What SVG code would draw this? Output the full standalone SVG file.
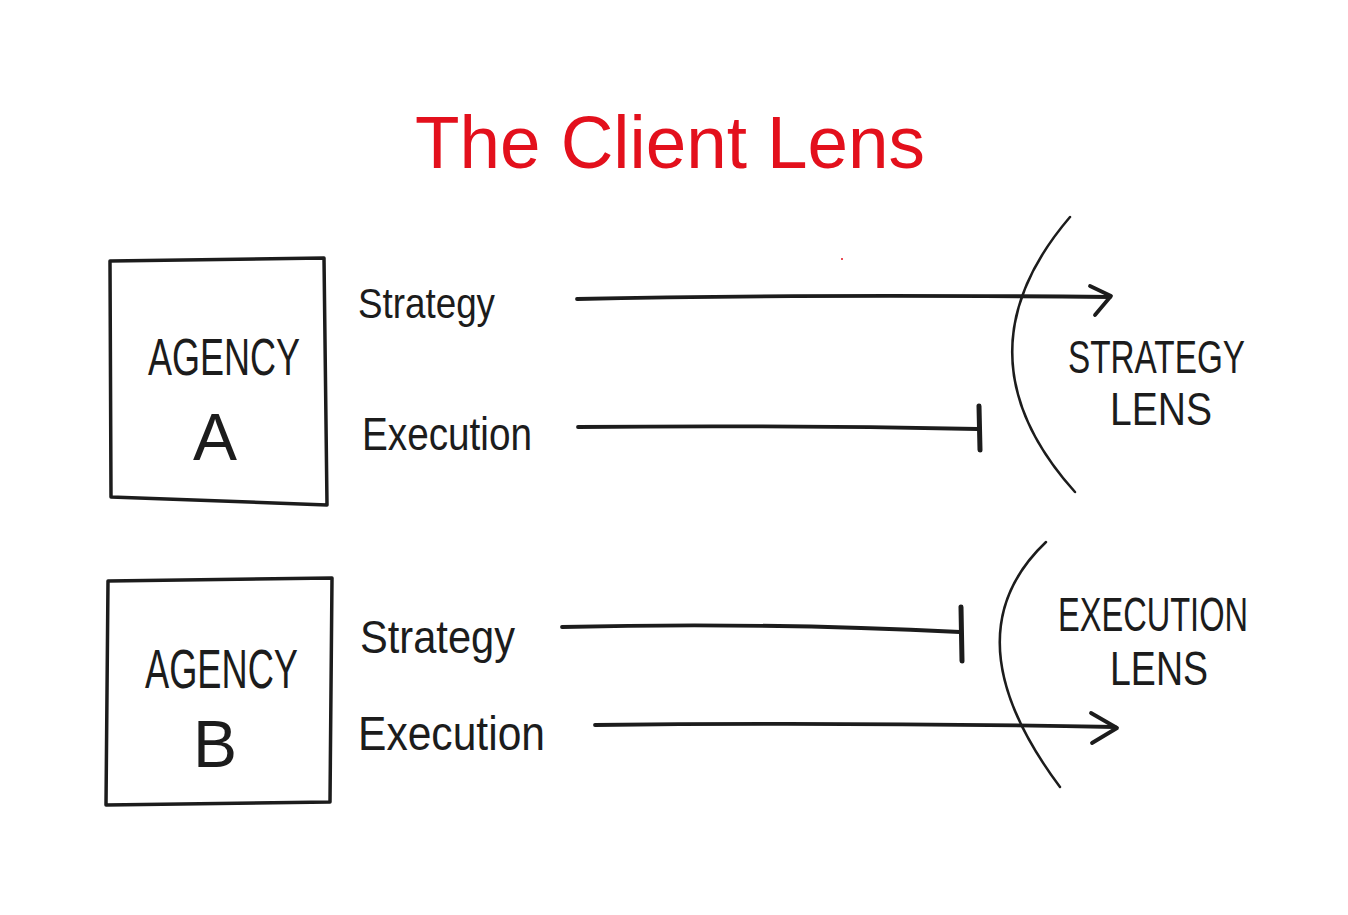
<svg xmlns="http://www.w3.org/2000/svg" width="1348" height="915" viewBox="0 0 1348 915">
<style>
.ink{fill:none;stroke:#1c1c1c;stroke-linecap:round;stroke-linejoin:round}
.box{stroke-width:3.5}
.line{stroke-width:3.8}
.bar{stroke-width:5}
.lens{stroke-width:2.5}
.t{font-family:"Liberation Sans","DejaVu Sans",sans-serif;fill:#1c1c1c}
.title{font-family:"Liberation Sans","DejaVu Sans",sans-serif;fill:#e3101c}
</style>
<rect width="1348" height="915" fill="#ffffff"/>
<text class="title" x="415" y="168" font-size="74" textLength="510" lengthAdjust="spacingAndGlyphs">The Client Lens</text>
<circle cx="842" cy="259" r="1" fill="#e3101c"/>
<g id="agencyA">
<path class="ink box" d="M110,261 L324,258 L327,505 L111,497 Z"/>
<text class="t" x="148" y="375" font-size="52" textLength="152" lengthAdjust="spacingAndGlyphs">AGENCY</text>
<text class="t" x="215" y="460" font-size="66" text-anchor="middle">A</text>
</g>
<g id="agencyB">
<path class="ink box" d="M108,581 L332,578 L330,802 L106,805 Z"/>
<text class="t" x="145" y="688" font-size="56" textLength="153" lengthAdjust="spacingAndGlyphs">AGENCY</text>
<text class="t" x="215" y="767" font-size="66" text-anchor="middle">B</text>
</g>
<g id="labels">
<text class="t" x="358" y="318" font-size="42" textLength="137" lengthAdjust="spacingAndGlyphs">Strategy</text>
<text class="t" x="362" y="450" font-size="46" textLength="170" lengthAdjust="spacingAndGlyphs">Execution</text>
<text class="t" x="360" y="653" font-size="46" textLength="155" lengthAdjust="spacingAndGlyphs">Strategy</text>
<text class="t" x="358" y="750" font-size="48" textLength="187" lengthAdjust="spacingAndGlyphs">Execution</text>
</g>
<g id="strategyLens">
<path class="ink lens" d="M1070,217 Q952,355 1075,492"/>
<text class="t" x="1068" y="373" font-size="46" textLength="177" lengthAdjust="spacingAndGlyphs">STRATEGY</text>
<text class="t" x="1110" y="425" font-size="46" textLength="102" lengthAdjust="spacingAndGlyphs">LENS</text>
</g>
<g id="executionLens">
<path class="ink lens" d="M1046,542 Q947,636 1060,787"/>
<text class="t" x="1058" y="631" font-size="48" textLength="190" lengthAdjust="spacingAndGlyphs">EXECUTION</text>
<text class="t" x="1110" y="685" font-size="48" textLength="98" lengthAdjust="spacingAndGlyphs">LENS</text>
</g>
<g id="connectors">
<path class="ink line" d="M577,299 Q800,294 1110,297"/>
<path class="ink line" d="M1090,286 L1111,296 L1095,315"/>
<path class="ink line" d="M578,427 Q780,425 978,429"/>
<path class="ink bar" d="M979,406 L980,450"/>
<path class="ink line" d="M562,627 Q760,622 960,632"/>
<path class="ink bar" d="M961,607 L962,661"/>
<path class="ink line" d="M595,725 Q850,722 1115,727"/>
<path class="ink line" d="M1091,713 L1117,728 L1092,743"/>
</g>
</svg>
